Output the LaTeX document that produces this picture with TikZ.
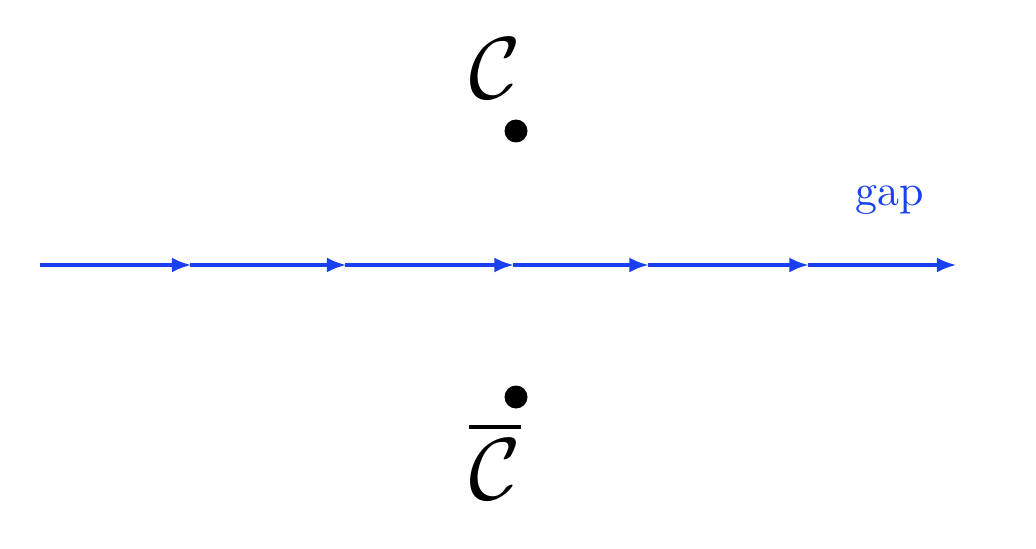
\documentclass[tikz,border=0pt]{standalone}
\usepackage{amsmath}
\usetikzlibrary{arrows.meta}
\definecolor{gapblue}{RGB}{25,65,240}
\tikzstyle{flow} = [-{Latex[length=4mm, width=3mm]}, gapblue, line width=2.2pt, shorten >=-1pt]
\tikzstyle{pole} = [circle, fill=black, inner sep=0pt, minimum size=0.46cm]
\tikzstyle{bigLabel} = [scale=5]
\begin{document}
\begin{tikzpicture}
    \useasboundingbox (0,0) rectangle (20.72,10.96);

    % Points above and below the line
    \node[pole] (c) at (10.32,8.34) {};
    \node[pole] (cbar) at (10.32,3.02) {};
    \node[bigLabel] (cl) at (9.9,9.6) {$\mathcal{C}$};
    \node[bigLabel] (cbarl) at (9.9,1.75) {$\overline{\mathcal{C}}$};

    % The line with its arrows
    \coordinate (p0) at (0.8,5.66);
    \coordinate (p1) at (3.8,5.66);
    \coordinate (p2) at (6.9,5.66);
    \coordinate (p3) at (10.25,5.66);
    \coordinate (p4) at (12.95,5.66);
    \coordinate (p5) at (16.15,5.66);
    \coordinate (p6) at (19.1,5.66);
    \foreach \a/\b in {p0/p1, p1/p2, p2/p3, p3/p4, p4/p5, p5/p6}
        \draw[flow] (\a) -- (\b);

    \node[gapblue, scale=2.5] (gap) at (17.8,6.95) {gap};
\end{tikzpicture}
\end{document}
